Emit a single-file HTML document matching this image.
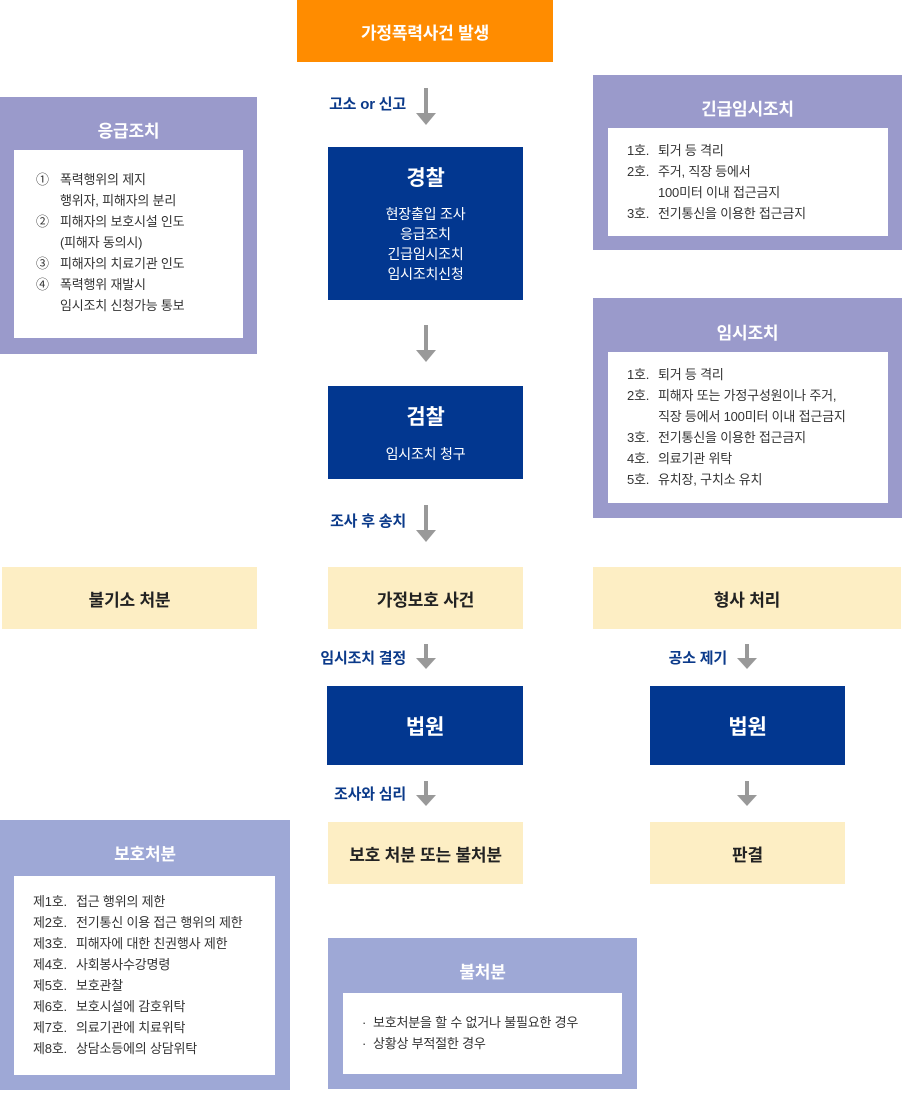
<!DOCTYPE html>
<html><head><meta charset="utf-8"><style>
*{margin:0;padding:0;box-sizing:border-box}
body{width:902px;height:1110px;position:relative;background:#fff;font-family:"Liberation Sans","Noto Sans CJK KR",sans-serif;overflow:hidden;letter-spacing:-0.2px}
.a{position:absolute}
.c{display:flex;align-items:center;justify-content:center;text-align:center}
.blue{background:#023790;color:#fff}
.yel{background:#fdeec4;color:#222;font-weight:bold;font-size:17px}
.pur{background:#9a9acb}
.pur2{background:#9ea8d6}
.ttl{position:absolute;left:0;right:0;text-align:center;color:#fff;font-weight:bold;font-size:17px}
.in{position:absolute;background:#fff;color:#333;font-size:13px;line-height:21px}
.lbl{position:absolute;color:#0b3a8a;font-weight:bold;font-size:15px;white-space:nowrap;text-align:right;width:200px}
.t{display:inline-block;width:31px}
.t2{display:inline-block;width:43px}
.n{display:inline-block;width:24px}
</style></head><body>
<svg class="a" style="left:0;top:0" width="902" height="1110">
<g fill="#999">
<rect x="424" y="88" width="4" height="27"/><polygon points="416,113 436,113 426,125"/>
<rect x="424" y="325" width="4" height="27"/><polygon points="416,350 436,350 426,362"/>
<rect x="424" y="505" width="4" height="27"/><polygon points="416,530 436,530 426,542"/>
<rect x="424" y="644" width="4" height="16"/><polygon points="416,658 436,658 426,669"/>
<rect x="745" y="644" width="4" height="16"/><polygon points="737,658 757,658 747,669"/>
<rect x="424" y="781" width="4" height="16"/><polygon points="416,795 436,795 426,806"/>
<rect x="745" y="781" width="4" height="16"/><polygon points="737,795 757,795 747,806"/>
</g></svg>

<div class="a c" style="left:297px;top:0;width:256px;height:62px;background:#ff8c00;color:#fff;font-weight:bold;font-size:17px">가정폭력사건 발생</div>

<div class="lbl" style="left:206px;top:93px">고소 or 신고</div>
<div class="lbl" style="left:206px;top:510px">조사 후 송치</div>
<div class="lbl" style="left:206px;top:647px">임시조치 결정</div>
<div class="lbl" style="left:527px;top:647px">공소 제기</div>
<div class="lbl" style="left:206px;top:783px">조사와 심리</div>

<div class="a blue" style="left:328px;top:147px;width:195px;height:153px;text-align:center">
<div style="font-size:21px;font-weight:bold;margin-top:15px">경찰</div>
<div style="font-size:14px;line-height:20px;margin-top:12px">현장출입 조사<br>응급조치<br>긴급임시조치<br>임시조치신청</div></div>

<div class="a blue" style="left:328px;top:386px;width:195px;height:93px;text-align:center">
<div style="font-size:21px;font-weight:bold;margin-top:15px">검찰</div>
<div style="font-size:14px;margin-top:13px">임시조치 청구</div></div>

<div class="a c yel" style="left:2px;top:567px;width:255px;height:62px">불기소 처분</div>
<div class="a c yel" style="left:328px;top:567px;width:195px;height:62px">가정보호 사건</div>
<div class="a c yel" style="left:593px;top:567px;width:308px;height:62px">형사 처리</div>

<div class="a c blue" style="left:327px;top:686px;width:196px;height:79px;font-size:21px;font-weight:bold">법원</div>
<div class="a c blue" style="left:650px;top:686px;width:195px;height:79px;font-size:21px;font-weight:bold">법원</div>

<div class="a c yel" style="left:328px;top:822px;width:195px;height:62px">보호 처분 또는 불처분</div>
<div class="a c yel" style="left:650px;top:822px;width:195px;height:62px">판결</div>

<div class="a pur" style="left:0;top:97px;width:257px;height:257px">
<div class="ttl" style="top:20px">응급조치</div>
<div class="in" style="left:14px;top:53px;width:229px;height:188px;padding:19px 0 0 22px">
<span class="n">①</span>폭력행위의 제지<br><span class="n"></span>행위자, 피해자의 분리<br><span class="n">②</span>피해자의 보호시설 인도<br><span class="n"></span>(피해자 동의시)<br><span class="n">③</span>피해자의 치료기관 인도<br><span class="n">④</span>폭력행위 재발시<br><span class="n"></span>임시조치 신청가능 통보</div></div>

<div class="a pur" style="left:593px;top:75px;width:309px;height:175px">
<div class="ttl" style="top:20px">긴급임시조치</div>
<div class="in" style="left:15px;top:53px;width:280px;height:108px;padding:12px 0 0 19px">
<span class="t">1호.</span>퇴거 등 격리<br><span class="t">2호.</span>주거, 직장 등에서<br><span class="t"></span>100미터 이내 접근금지<br><span class="t">3호.</span>전기통신을 이용한 접근금지</div></div>

<div class="a pur" style="left:593px;top:298px;width:309px;height:220px">
<div class="ttl" style="top:21px">임시조치</div>
<div class="in" style="left:15px;top:54px;width:280px;height:151px;padding:12px 0 0 19px">
<span class="t">1호.</span>퇴거 등 격리<br><span class="t">2호.</span>피해자 또는 가정구성원이나 주거,<br><span class="t"></span>직장 등에서 100미터 이내 접근금지<br><span class="t">3호.</span>전기통신을 이용한 접근금지<br><span class="t">4호.</span>의료기관 위탁<br><span class="t">5호.</span>유치장, 구치소 유치</div></div>

<div class="a pur2" style="left:0;top:820px;width:290px;height:270px">
<div class="ttl" style="top:20px">보호처분</div>
<div class="in" style="left:14px;top:56px;width:261px;height:199px;padding:15px 0 0 19px">
<span class="t2">제1호.</span>접근 행위의 제한<br><span class="t2">제2호.</span>전기통신 이용 접근 행위의 제한<br><span class="t2">제3호.</span>피해자에 대한 친권행사 제한<br><span class="t2">제4호.</span>사회봉사수강명령<br><span class="t2">제5호.</span>보호관찰<br><span class="t2">제6호.</span>보호시설에 감호위탁<br><span class="t2">제7호.</span>의료기관에 치료위탁<br><span class="t2">제8호.</span>상담소등에의 상담위탁</div></div>

<div class="a pur2" style="left:328px;top:938px;width:309px;height:151px">
<div class="ttl" style="top:20px">불처분</div>
<div class="in" style="left:15px;top:55px;width:279px;height:81px;padding:19px 0 0 19px">
·&nbsp; 보호처분을 할 수 없거나 불필요한 경우<br>·&nbsp; 상황상 부적절한 경우</div></div>
</body></html>
